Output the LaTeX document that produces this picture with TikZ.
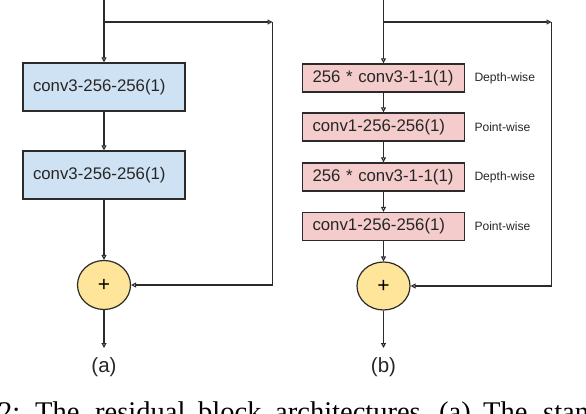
\documentclass[tikz,border=0pt]{standalone}
\usepackage{fontspec}
\setmainfont{Liberation Serif}
\newfontfamily\arial{Liberation Sans}
\usetikzlibrary{arrows.meta,shapes.geometric}
\definecolor{lineclr}{HTML}{2B2B2B}
\definecolor{blueclr}{HTML}{CFE2F3}
\definecolor{pinkclr}{HTML}{F4CCCC}
\definecolor{yellowclr}{HTML}{FFE599}
\tikzset{
  conn/.style={draw=lineclr, line width=1.1pt, -{Triangle[open, length=5pt, width=5pt]}},
  plainline/.style={draw=lineclr, line width=1.1pt},
  bigbox/.style={draw=lineclr, line width=1.3pt, fill=blueclr, rectangle,
    text width=142pt, align=left, inner xsep=10pt, inner ysep=0pt,
    minimum height=48pt, font=\arial\fontsize{16.8}{18}\selectfont, text=black!85},
  smallbox/.style={draw=lineclr, line width=1.3pt, fill=pinkclr, rectangle,
    text width=142pt, align=left, inner xsep=10pt, inner ysep=0pt,
    minimum height=28pt, font=\arial\fontsize{16.8}{18}\selectfont, text=black!85},
  sumnode/.style={draw=lineclr, line width=1.2pt, fill=yellowclr, ellipse,
    minimum width=53pt, minimum height=49pt, inner sep=0pt,
    font=\arial\fontsize{21}{22}\selectfont},
  sidelabel/.style={anchor=west, inner sep=0pt, font=\arial\fontsize{12.1}{14}\selectfont, text=black!85},
  sublabel/.style={inner sep=0pt, font=\arial\fontsize{20.5}{22}\selectfont, text=black!85},
  capword/.style={anchor=base west, inner sep=0pt, font=\fontsize{28.5}{30}\selectfont}
}
\begin{document}
\begin{tikzpicture}[x=1pt,y=-1pt]
\useasboundingbox (0,0) rectangle (586,414);
\clip (0,0) rectangle (586,414);
% ---------- (a) ----------
\coordinate (atop) at (104,0);
\coordinate (abr) at (104,22);
\coordinate (acorner) at (272.5,22);
\coordinate (acorner2) at (272.5,285);
\node[bigbox] (a1) at (104,87) {conv3-256-256(1)};
\node[bigbox] (a2) at (104,175) {conv3-256-256(1)};
\node[sumnode] (aplus) at (104,285) {+};
\coordinate (aout) at (104,348);
\node[sublabel] (alab) at (104,367.5) {(a)};
\draw[conn] (atop) -- (a1.north);
\draw[conn] (abr) -- (acorner);
\draw[plainline] (acorner) -- (acorner2);
\draw[conn] (acorner2) -- (aplus.east);
\draw[conn] (a1.south) -- (a2.north);
\draw[conn] (a2.south) -- (aplus.north);
\draw[conn] (aplus.south) -- (aout);
% ---------- (b) ----------
\coordinate (btop) at (383.5,0);
\coordinate (bbr) at (383.5,22);
\coordinate (bcorner) at (551.5,22);
\coordinate (bcorner2) at (551.5,286);
\node[smallbox] (b1) at (383.5,78) {256 * conv3-1-1(1)};
\node[smallbox] (b2) at (383.5,127) {conv1-256-256(1)};
\node[smallbox] (b3) at (383.5,177) {256 * conv3-1-1(1)};
\node[smallbox] (b4) at (383.5,226.5) {conv1-256-256(1)};
\node[sumnode, minimum height=48pt] (bplus) at (383.5,286) {+};
\coordinate (bout) at (383.5,348);
\node[sublabel] (blab) at (383.5,367.5) {(b)};
\node[sidelabel] (l1) at (474.3,78) {Depth-wise};
\node[sidelabel] (l2) at (474.3,127) {Point-wise};
\node[sidelabel] (l3) at (474.3,177) {Depth-wise};
\node[sidelabel] (l4) at (474.3,226.5) {Point-wise};
\draw[conn] (btop) -- (b1.north);
\draw[conn] (bbr) -- (bcorner);
\draw[plainline] (bcorner) -- (bcorner2);
\draw[conn] (bcorner2) -- (bplus.east);
\draw[conn] (b1.south) -- (b2.north);
\draw[conn] (b2.south) -- (b3.north);
\draw[conn] (b3.south) -- (b4.north);
\draw[conn] (b4.south) -- (bplus.north);
\draw[conn] (bplus.south) -- (bout);
% ---------- caption (cut off at the lower edge, as in the reference) ----------
\node[capword] (c1) at (-2,421) {2:};
\node[capword] (c2) at (35,421) {The};
\node[capword] (c3) at (95,421) {residual};
\node[capword] (c4) at (198,421) {block};
\node[capword] (c5) at (275,421) {architectures.};
\node[capword] (c6) at (439,421) {(a)};
\node[capword] (c7) at (483,421) {The};
\node[capword] (c8) at (543,421) {standard};
\end{tikzpicture}
\end{document}
